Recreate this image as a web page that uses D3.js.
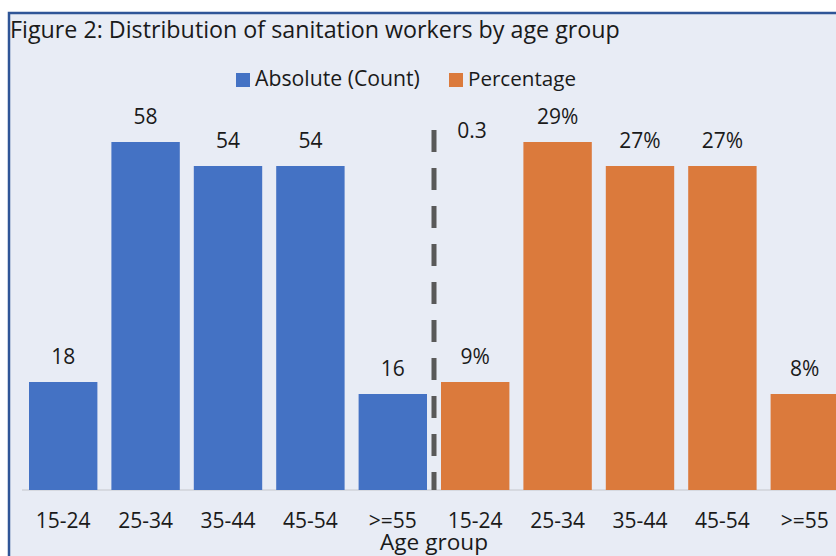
<!DOCTYPE html>
<html>
<head>
<meta charset="utf-8">
<script src="https://cdn.jsdelivr.net/npm/d3@7"></script>
<style>
  html, body { margin: 0; padding: 0; background: #ffffff; }
  svg { display: block; }
  text { font-family: "Open Sans", "Noto Sans", sans-serif; fill: #1a1a1a; }
</style>
</head>
<body>
<svg id="chart" width="836" height="556"></svg>
<script>
// Age groups shown twice: once as counts, once as shares of the total
const ageGroups = ["15-24", "25-34", "35-44", "45-54", ">=55"];
const counts = [18, 58, 54, 54, 16];
const percentages = [0.09, 0.29, 0.27, 0.27, 0.08];
const dividerValue = 0.3;
const seriesNames = ["Absolute (Count)", "Percentage"];
const axisTitle = "Age group";
const chartTitle = "Figure 2: Distribution of sanitation workers by age group";

const colors = { count: "#4472C4", pct: "#DB7A3C", divider: "#595959" };
const FONT = "'Open Sans', 'Noto Sans', sans-serif";
const LABEL_SIZE = 21;

const svg = d3.select("#chart");
const W = 836, H = 556;

// shrink or grow a text node so it spans the given width
function fitWidth(sel, width) {
  const node = sel.node();
  const size = parseFloat(sel.attr("font-size"));
  const len = node.getComputedTextLength();
  if (len > 0) sel.attr("font-size", (size * width / len).toFixed(2));
  return sel;
}

// panel background and frame
svg.append("rect")
  .attr("x", 9).attr("y", 13)
  .attr("width", W + 10).attr("height", H + 10)
  .attr("fill", "#E8ECF5")
  .attr("stroke", "#2F5597").attr("stroke-width", 2.5);

fitWidth(svg.append("text")
  .attr("x", 10).attr("y", 38)
  .attr("font-size", 22)
  .text(chartTitle), 610);

// plot geometry
const baseY = 490, topY = 130;
const keys = [
  ...ageGroups.map((g, i) => ({ key: "c" + i, label: g, series: "count", value: counts[i] })),
  ...ageGroups.map((g, i) => ({ key: "p" + i, label: g, series: "pct", value: percentages[i] }))
];

const x = d3.scaleBand()
  .domain(keys.map(d => d.key))
  .range([22, 846])
  .paddingInner(0.17)
  .paddingOuter(0.085);

const yCount = d3.scaleLinear().domain([0, 60]).range([baseY, topY]);
const yPct = d3.scaleLinear().domain([0, dividerValue]).range([baseY, topY]);
const yOf = d => d.series === "count" ? yCount(d.value) : yPct(d.value);
const fmt = d => d.series === "count" ? d3.format("d")(d.value) : d3.format(".0%")(d.value);

// category axis
const xAxis = svg.append("g")
  .attr("transform", `translate(0,${baseY})`)
  .call(d3.axisBottom(x).tickSize(0).tickPadding(0).tickFormat(k => keys.find(d => d.key === k).label));
xAxis.select(".domain").attr("stroke", "#D0D3D9").attr("stroke-width", 1.5)
  .attr("d", `M${x.range()[0]},0H${x.range()[1]}`);
xAxis.selectAll(".tick text")
  .attr("y", 38).attr("dy", 0)
  .attr("font-size", LABEL_SIZE)
  .attr("fill", "#1a1a1a")
  .style("font-family", FONT);

// bars
svg.append("g").selectAll("rect")
  .data(keys)
  .join("rect")
  .attr("x", d => x(d.key))
  .attr("width", x.bandwidth())
  .attr("y", d => yOf(d))
  .attr("height", d => baseY - yOf(d))
  .attr("fill", d => colors[d.series]);

// value labels
svg.append("g").selectAll("text")
  .data(keys)
  .join("text")
  .attr("x", d => x(d.key) + x.bandwidth() / 2)
  .attr("y", d => yOf(d) - 18)
  .attr("text-anchor", "middle")
  .attr("font-size", LABEL_SIZE)
  .text(fmt);

// dashed divider between the two groups
const divX = (x("c4") + x.bandwidth() + x("p0")) / 2;
svg.append("line")
  .attr("x1", divX).attr("x2", divX)
  .attr("y1", yPct(dividerValue)).attr("y2", baseY)
  .attr("stroke", colors.divider)
  .attr("stroke-width", 5)
  .attr("stroke-dasharray", "22,16");
svg.append("text")
  .attr("x", divX + 38)
  .attr("y", yPct(dividerValue) + 8)
  .attr("text-anchor", "middle")
  .attr("font-size", LABEL_SIZE)
  .text(d3.format(".1f")(dividerValue));

// legend
const legend = svg.append("g");
const legendItems = [
  { name: seriesNames[0], color: colors.count, x: 236, w: 165 },
  { name: seriesNames[1], color: colors.pct, x: 449, w: 108 }
];
legendItems.forEach(it => {
  legend.append("rect").attr("x", it.x).attr("y", 73).attr("width", 14).attr("height", 14).attr("fill", it.color);
  fitWidth(legend.append("text").attr("x", it.x + 19).attr("y", 86).attr("font-size", 20).text(it.name), it.w);
});

// axis title
fitWidth(svg.append("text")
  .attr("x", divX).attr("y", 550)
  .attr("text-anchor", "middle")
  .attr("font-size", 21)
  .text(axisTitle), 108);
</script>
</body>
</html>
